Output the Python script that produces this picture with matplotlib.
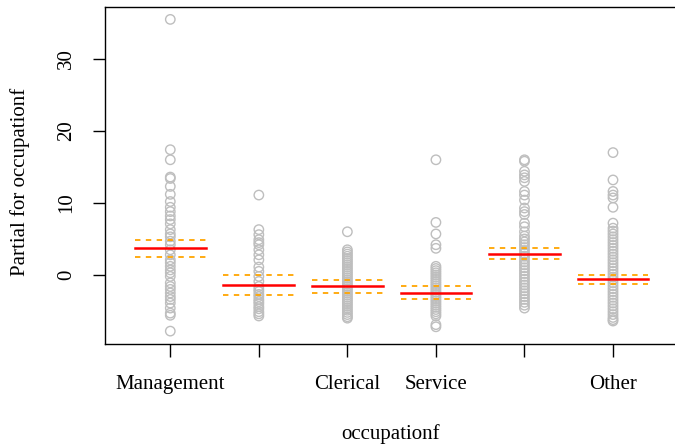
import numpy as np
import matplotlib
matplotlib.use("Agg")
import matplotlib.pyplot as plt

plt.rcParams['font.family'] = ['Liberation Serif', 'DejaVu Serif']

# category labels (R drops the ones that would overlap)
categories = ["Management", "", "Clerical", "Service", "", "Other"]

# partial residuals, one list per level
management = [35.5, 17.4, 16.0, 13.6, 13.4, 12.3, 11.2, 10.2, 9.4, 8.8, 8.2, 7.7, 7.1,
              6.3, 5.7, 5.3, 4.7, 4.2, 3.5, 2.8, 2.1, 1.7, 1.2, 0.7, 0.3, -0.2,
              -1.1, -1.6, -2.0, -2.5, -3.0, -3.4, -3.9, -4.6, -5.3, -5.6, -7.8]
professional = [11.1, 6.3, 5.6, 4.9, 4.5, 4.2, 3.5, 2.8, 2.1, 1.1, 0.5, -0.2, -0.9,
                -1.6, -2.0, -2.3, -2.7, -3.0, -3.4, -3.7, -4.0, -4.4, -4.7, -5.1,
                -5.4, -5.7]
clerical = [6.0, 3.5, 3.2, 2.9, 2.6, 2.3, 2.0, 1.7, 1.4, 1.1, 0.8, 0.5, 0.2, -0.1,
            -0.4, -0.7, -1.0, -1.3, -1.6, -1.9, -2.2, -2.5, -2.8, -3.1, -3.4, -3.7,
            -4.0, -4.3, -4.6, -4.9, -5.2, -5.5, -5.8, -6.0]
service = [16.0, 7.3, 5.7, 4.2, 3.7, 1.2, 0.9, 0.6, 0.3, 0.0, -0.3, -0.6, -0.9,
           -1.2, -1.5, -1.8, -2.1, -2.4, -2.7, -3.0, -3.3, -3.6, -3.9, -4.2, -4.5,
           -4.8, -5.1, -5.4, -5.7, -6.9, -7.2]
sales = [16.0, 15.8, 14.4, 13.9, 13.5, 13.0, 11.6, 11.1, 10.4, 9.3, 8.8, 8.4, 7.2,
         6.7, 6.0, 5.4, 5.0, 4.6, 4.2, 3.8, 3.4, 3.0, 2.6, 2.2, 1.8, 1.4, 1.0, 0.6,
         0.2, -0.2, -0.6, -1.0, -1.4, -1.8, -2.2, -2.6, -3.0, -3.4, -3.8, -4.2,
         -4.6]
other = [17.0, 13.2, 11.6, 11.1, 10.7, 9.4, 7.2, 6.5, 6.1, 5.7, 5.3, 4.9, 4.5,
         4.1, 3.7, 3.3, 2.9, 2.5, 2.1, 1.7, 1.3, 0.9, 0.5, 0.1, -0.3, -0.7, -1.1,
         -1.5, -1.9, -2.3, -2.7, -3.1, -3.5, -3.9, -4.3, -4.7, -5.1, -5.5, -5.9,
         -6.2, -6.4]
residuals = [management, professional, clerical, service, sales, other]

# fitted partial effect and +/- 2 se band
effect = [3.7, -1.4, -1.6, -2.45, 2.9, -0.55]
upper = [4.9, 0.05, -0.7, -1.5, 3.7, 0.05]
lower = [2.5, -2.85, -2.45, -3.4, 2.15, -1.2]


def main():
    fig = plt.figure(figsize=(6.75, 4.46), dpi=100)
    ax = fig.add_axes([105.3 / 675, 1 - 344.3 / 446, (678 - 105.3) / 675, 337.0 / 446])

    xs = np.arange(1, len(categories) + 1)
    for x, vals in zip(xs, residuals):
        ax.scatter(np.full(len(vals), x), vals, s=46, facecolors='none',
                   edgecolors='#BEBEBE', linewidths=1.0, zorder=2)

    hw = 0.4
    for x, m, u, l in zip(xs, effect, upper, lower):
        ax.plot([x - hw, x + hw], [m, m], color='red', lw=1.8, zorder=3)
        for v in (u, l):
            ax.plot([x - hw, x + hw], [v, v], color='orange', lw=1.3,
                    ls=(0, (3, 3)), zorder=3)

    ax.set_xlim(1 - 0.734, 6 + 0.734)
    ax.set_ylim(-9.63, 37.18)
    ax.set_xticks(xs)
    ax.set_xticklabels(categories, fontsize=15)
    ax.set_yticks([0, 10, 20, 30])
    ax.set_yticklabels(['0', '10', '20', '30'], fontsize=15, rotation=90, va='center')
    ax.tick_params(axis='both', length=9, width=1)
    ax.tick_params(axis='x', pad=13)
    ax.tick_params(axis='y', pad=12)
    for sp in ax.spines.values():
        sp.set_linewidth(1)

    fig.text(391 / 675, 1 - 434 / 446, "occupationf", ha='center', va='center', fontsize=15)
    fig.text(20 / 675, 1 - 182 / 446, "Partial for occupationf", ha='center', va='center',
             rotation=90, fontsize=15)

    fig.savefig("out.png", dpi=100)


main()
